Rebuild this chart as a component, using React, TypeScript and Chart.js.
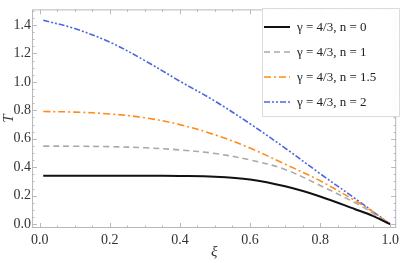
import React, { useEffect, useRef } from "react";
import { Chart, registerables } from "chart.js";

Chart.register(...registerables);

const XI = [0.01, 0.1, 0.2, 0.3, 0.4, 0.5, 0.6, 0.7, 0.8, 0.9, 0.95, 1.0];
const T_N0 = [0.34, 0.34, 0.34, 0.34, 0.339, 0.334, 0.314, 0.266, 0.195, 0.105, 0.058, 0.0];
const T_N1 = [0.549, 0.548, 0.545, 0.537, 0.522, 0.497, 0.452, 0.385, 0.272, 0.15, 0.078, 0.0];
const T_N15 = [0.792, 0.788, 0.775, 0.748, 0.7, 0.628, 0.535, 0.422, 0.305, 0.165, 0.088, 0.0];
const T_N2 = [1.434, 1.375, 1.28, 1.15, 1.005, 0.865, 0.706, 0.535, 0.355, 0.18, 0.09, 0.0];

const LABELS = ["γ = 4/3, n = 0", "γ = 4/3, n = 1", "γ = 4/3, n = 1.5", "γ = 4/3, n = 2"];
const X_TICKS = [0, 0.2, 0.4, 0.6, 0.8, 1.0];
const Y_TICKS = [0, 0.2, 0.4, 0.6, 0.8, 1.0, 1.2, 1.4];

const SERIF = "'Liberation Serif', 'DejaVu Serif', serif";

const framePlugin = {
  id: "frameTicks",
  afterDraw(chart: any) {
    const { ctx, chartArea: a, scales } = chart;
    const xs = scales.x;
    const ys = scales.y;
    ctx.save();
    ctx.strokeStyle = "#b8b8b8";
    ctx.lineWidth = 1;
    ctx.strokeRect(a.left + 0.5, a.top + 0.5, a.right - a.left - 1, a.bottom - a.top - 1);
    ctx.beginPath();
    const minorStep = 0.05;
    for (let v = -0.1; v <= 1.6; v += minorStep) {
      const vv = Math.round(v * 100) / 100;
      const major = Math.abs(vv * 5 - Math.round(vv * 5)) < 1e-6;
      const len = major ? 5 : 2.5;
      if (vv >= xs.min && vv <= xs.max) {
        const px = Math.round(xs.getPixelForValue(vv)) + 0.5;
        ctx.moveTo(px, a.bottom);
        ctx.lineTo(px, a.bottom - len);
        ctx.moveTo(px, a.top);
        ctx.lineTo(px, a.top + len);
      }
      if (vv >= ys.min && vv <= ys.max) {
        const py = Math.round(ys.getPixelForValue(vv)) + 0.5;
        ctx.moveTo(a.left, py);
        ctx.lineTo(a.left + len, py);
        ctx.moveTo(a.right, py);
        ctx.lineTo(a.right - len, py);
      }
    }
    ctx.stroke();

    // legend
    const bx = 262, by = 8, bw = 137, bh = 108;
    ctx.fillStyle = "rgba(255,255,255,0.95)";
    ctx.fillRect(bx, by, bw, bh);
    ctx.strokeStyle = "#dcdcdc";
    ctx.strokeRect(bx + 0.5, by + 0.5, bw, bh);
    ctx.font = `13px ${SERIF}`;
    ctx.textBaseline = "middle";
    ctx.textAlign = "left";
    chart.data.datasets.forEach((ds: any, i: number) => {
      const y = 27 + i * 25;
      ctx.strokeStyle = ds.borderColor;
      ctx.lineWidth = ds.borderWidth;
      ctx.setLineDash(ds.borderDash || []);
      ctx.beginPath();
      ctx.moveTo(264, y);
      ctx.lineTo(290, y);
      ctx.stroke();
      ctx.setLineDash([]);
      ctx.fillStyle = "#222";
      ctx.fillText(ds.label, 297, y + 1);
    });
    ctx.restore();
  },
};

export default function App() {
  const ref = useRef<HTMLCanvasElement>(null);
  useEffect(() => {
    document.body.style.margin = "0";
    const mk = (arr: number[]) => XI.map((x, i) => ({ x, y: arr[i] }));
    const chart = new Chart(ref.current!, {
      type: "line",
      data: {
        datasets: [
          { label: LABELS[0], data: mk(T_N0), borderColor: "#111111", borderWidth: 2, borderDash: [] },
          { label: LABELS[1], data: mk(T_N1), borderColor: "#a9a9a9", borderWidth: 1.6, borderDash: [6, 4] },
          { label: LABELS[2], data: mk(T_N15), borderColor: "#ff8c1a", borderWidth: 1.6, borderDash: [7, 3, 2, 3] },
          { label: LABELS[3], data: mk(T_N2), borderColor: "#4a66e0", borderWidth: 1.6, borderDash: [6, 2, 2, 2, 2, 2] },
        ] as any,
      },
      options: {
        animation: false,
        responsive: false,
        parsing: false as any,
        elements: { point: { radius: 0 }, line: { tension: 0.35, fill: false } },
        layout: { padding: { top: 1, right: 1, left: 0, bottom: 0 } },
        plugins: { legend: { display: false }, tooltip: { enabled: false } },
        scales: {
          x: {
            type: "linear",
            min: -0.022,
            max: 1.017,
            grid: { display: false, drawTicks: false },
            border: { display: false },
            afterBuildTicks: (s: any) => { s.ticks = X_TICKS.map((v) => ({ value: v })); },
            afterFit: (s: any) => { s.height = 35; },
            ticks: {
              padding: 4,
              maxRotation: 0,
              color: "#333",
              font: { family: SERIF, size: 14 },
              callback: (v: any) => Number(v).toFixed(1),
            },
            title: { display: true, text: "ξ", color: "#333", font: { family: SERIF, size: 15, style: "italic" }, padding: { top: 0, bottom: 2 } },
          },
          y: {
            type: "linear",
            min: -0.027,
            max: 1.51,
            grid: { display: false, drawTicks: false },
            border: { display: false },
            afterBuildTicks: (s: any) => { s.ticks = Y_TICKS.map((v) => ({ value: v })); },
            afterFit: (s: any) => { s.width = 32; },
            ticks: {
              padding: 1,
              color: "#333",
              font: { family: SERIF, size: 14 },
              callback: (v: any) => Number(v).toFixed(1),
            },
            title: { display: true, text: "T", color: "#333", font: { family: SERIF, size: 15, style: "italic" }, padding: { top: 0, bottom: 0 } },
          },
        },
      },
      plugins: [framePlugin],
    } as any);
    return () => chart.destroy();
  }, []);
  return (
    <div style={{ width: 403, height: 263 }}>
      <canvas ref={ref} width={403} height={263} />
    </div>
  );
}
